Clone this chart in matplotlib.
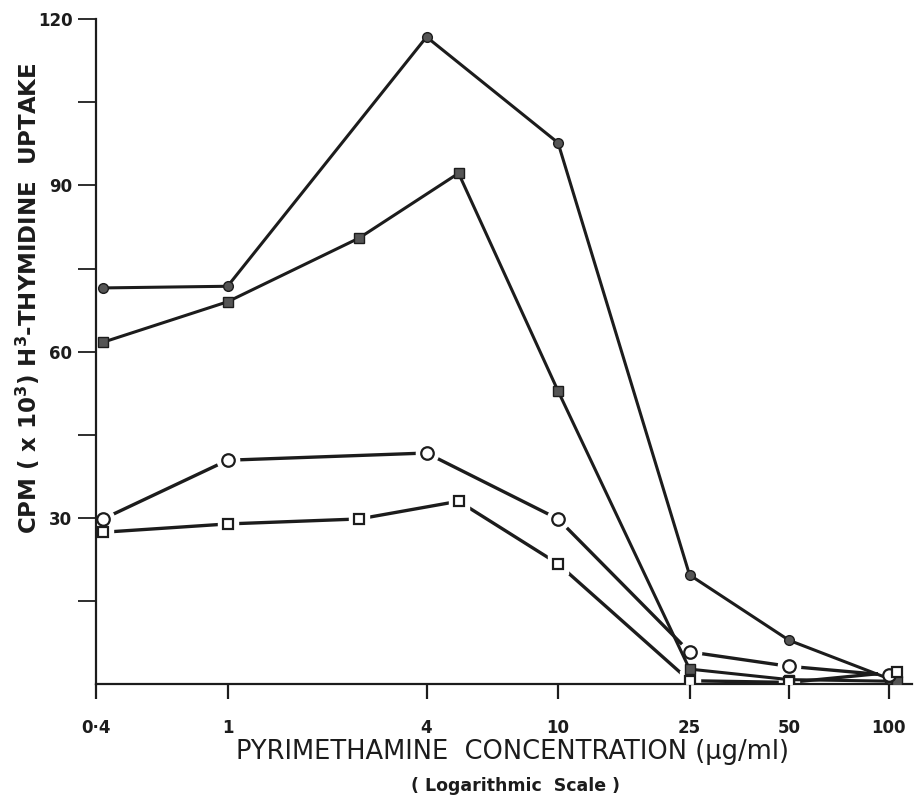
import numpy as np
import matplotlib
matplotlib.use('Agg')
from matplotlib import pyplot as plt
from matplotlib.ticker import FixedLocator, NullLocator

# concentrations (ug/ml) and thymidine uptake, CPM x 10^3
conc_circle = [0.42, 1, 4, 10, 25, 50, 100]
conc_square = [0.42, 1, 2.5, 5, 10, 25, 50, 106]

filled_circle = [71.5, 71.8, 116.8, 97.7, 19.7, 7.9, 1.0]
filled_square = [61.7, 69.0, 80.5, 92.2, 52.9, 2.7, 0.8, 0.5]
open_circle = [29.8, 40.4, 41.7, 29.8, 5.8, 3.2, 1.6]
open_square = [27.4, 28.9, 29.8, 33.0, 21.7, 0.6, 0.3, 2.2]

xtick_vals = [0.4, 1, 4, 10, 25, 50, 100]
xtick_labels = ['0·4', '1', '4', '10', '25', '50', '100']
ytick_vals = [15, 30, 45, 60, 75, 90, 105, 120]
ytick_labels = ['', '30', '', '60', '', '90', '', '120']

ink = '#1c1c1c'
fill = '#555555'

fig = plt.figure(figsize=(9.15, 8.01), dpi=100)
ax = fig.add_axes([0.105, 0.146, 0.892, 0.830])

# filled symbols: plain line through the markers
ax.plot(conc_circle, filled_circle, color=ink, lw=2.2, marker='o', ms=7,
        mfc=fill, mec=ink, mew=1, zorder=3)
ax.plot(conc_square, filled_square, color=ink, lw=2.2, marker='s', ms=6.5,
        mfc=fill, mec=ink, mew=1, zorder=3)

# open symbols: line broken around each marker by a white halo
for xs, ys, mk, ms in [(conc_circle, open_circle, 'o', 9),
                       (conc_square, open_square, 's', 7.5)]:
    ax.plot(xs, ys, color=ink, lw=2.4, zorder=2)
    ax.plot(xs, ys, ls='none', marker=mk, ms=ms + 7, mfc='white',
            mec='white', zorder=2.5)
    ax.plot(xs, ys, ls='none', marker=mk, ms=ms, mfc='white',
            mec=ink, mew=1.6, zorder=4)

ax.set_xscale('log')
ax.set_xlim(0.4, 118)
ax.set_ylim(0, 120)

ax.xaxis.set_major_locator(FixedLocator(xtick_vals))
ax.xaxis.set_minor_locator(NullLocator())
ax.set_xticklabels(xtick_labels)
ax.yaxis.set_major_locator(FixedLocator(ytick_vals))
ax.set_yticklabels(ytick_labels)

ax.spines['top'].set_visible(False)
ax.spines['right'].set_visible(False)
for side in ['left', 'bottom']:
    ax.spines[side].set_linewidth(1.6)
    ax.spines[side].set_color(ink)

ax.tick_params(axis='x', direction='out', length=11, width=1.6, pad=14,
               colors=ink, labelsize=12)
ax.tick_params(axis='y', direction='out', length=13, width=1.3, pad=4,
               colors=ink, labelsize=12)
for lab in ax.get_xticklabels() + ax.get_yticklabels():
    lab.set_fontweight('bold')

# axis titles placed on the figure
fig.text(0.56, 0.061, 'PYRIMETHAMINE  CONCENTRATION (µg/ml)', ha='center',
         va='center', fontsize=18.5, color=ink)
fig.text(0.563, 0.019, '( Logarithmic  Scale )', ha='center', va='center',
         fontsize=12.5, fontweight='bold', color=ink)
fig.text(0.030, 0.628,
         r'CPM ( x 10$^{\mathbf{3}}$) H$^{\mathbf{3}}$-THYMIDINE  UPTAKE',
         rotation=90, ha='center', va='center', fontsize=16.5,
         fontweight='bold', color=ink)

fig.savefig('out.png', dpi=100)
